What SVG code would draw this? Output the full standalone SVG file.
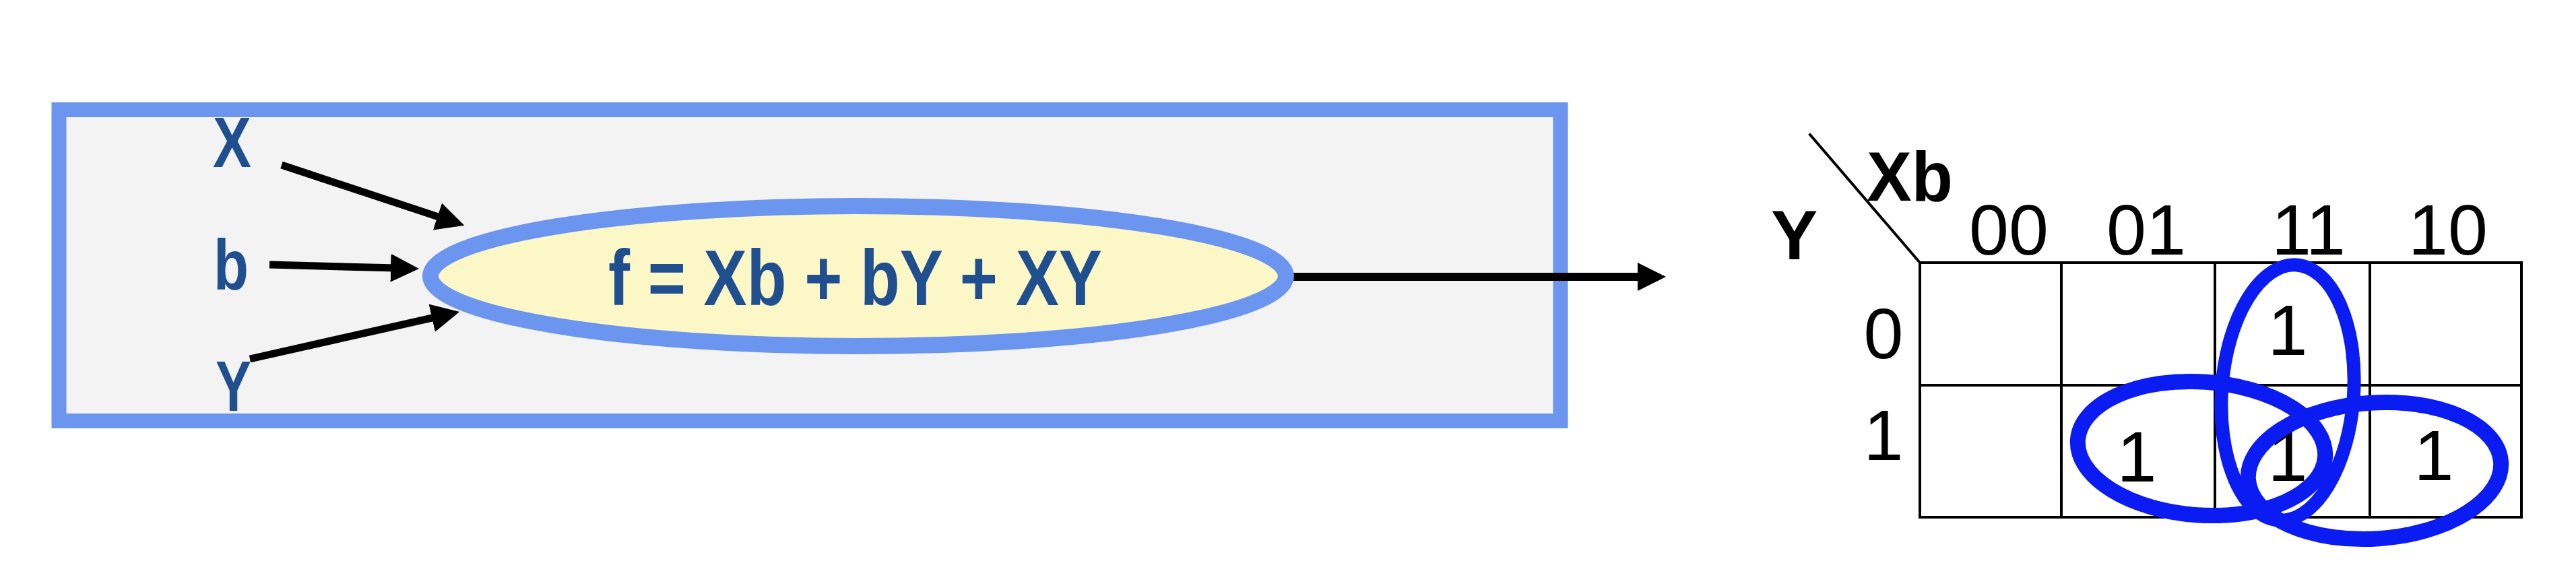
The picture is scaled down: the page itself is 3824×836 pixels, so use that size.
<svg xmlns="http://www.w3.org/2000/svg" width="3824" height="836" viewBox="0 0 3824 836">
  <style>
    .lbl { font-family: "Liberation Sans", Arial, sans-serif; font-weight: bold; fill: #1f4f8e; }
    .km { font-family: "Liberation Sans", Arial, sans-serif; fill: #000000; }
    .kmb { font-family: "Liberation Sans", Arial, sans-serif; font-weight: bold; fill: #000000; }
    .arrow { stroke: #000000; stroke-width: 11; fill: none; marker-end: url(#head); }
    .grid { stroke: #000000; stroke-width: 4; fill: none; stroke-linecap: square; }
    .loop { fill: none; stroke: #0a1cf2; stroke-width: 23; }
  </style>
  <defs>
    <marker id="head" markerUnits="userSpaceOnUse" markerWidth="46" markerHeight="46" refX="9" refY="21" orient="auto" viewBox="0 0 46 46">
      <path d="M0,0 L42,21 L0,42 Z" fill="#000000"/>
    </marker>
  </defs>
  <rect x="0" y="0" width="3824" height="836" fill="#ffffff"/>

  <g id="block">
    <rect x="87.5" y="163" width="2229" height="462" fill="#f3f3f4" stroke="#6b95ee" stroke-width="22"/>
  </g>

  <g id="connectors">
    <line class="arrow" x1="418" y1="245" x2="658" y2="324.4"/>
    <line class="arrow" x1="400" y1="393" x2="589" y2="398.1"/>
    <line class="arrow" x1="371" y1="533" x2="650" y2="470.2"/>
    <line class="arrow" style="stroke-width:12" x1="1915" y1="411" x2="2440" y2="411"/>
  </g>

  <g id="function">
    <ellipse cx="1274" cy="410" rx="635" ry="104" fill="#fcf7c6" stroke="#6b95ee" stroke-width="24"/>
    <text class="lbl" x="903" y="453" font-size="116" textLength="733" lengthAdjust="spacingAndGlyphs">f = Xb + bY + XY</text>
  </g>

  <g id="input-X"><text class="lbl" x="316" y="248" font-size="106" textLength="57" lengthAdjust="spacingAndGlyphs">X</text></g>
  <g id="input-b"><text class="lbl" x="317" y="430" font-size="106" textLength="52" lengthAdjust="spacingAndGlyphs">b</text></g>
  <g id="input-Y"><text class="lbl" x="320" y="610" font-size="106" textLength="53" lengthAdjust="spacingAndGlyphs">Y</text></g>

  <g id="kmap">
    <line class="grid" x1="2687" y1="200" x2="2850" y2="390"/>
    <path class="grid" d="M2850,390 H3743 V768 H2850 Z M2850,572 H3743 M3060,390 V768 M3288,390 V768 M3518,390 V768"/>
    <text class="kmb" x="2771" y="298" font-size="104" textLength="128" lengthAdjust="spacingAndGlyphs">Xb</text>
    <text class="kmb" x="2629" y="385" font-size="104">Y</text>
    <g class="km" font-size="106" text-anchor="middle">
      <text x="2982" y="378">00</text>
      <text x="3186" y="378">01</text>
      <text x="3427" y="378">11</text>
      <text x="3634" y="378">10</text>
      <text x="2796" y="532">0</text>
      <text x="2796" y="683">1</text>
      <text x="3396" y="527">1</text>
      <text x="3172" y="715">1</text>
      <text x="3396" y="714">1</text>
      <text x="3613" y="713">1</text>
    </g>
  </g>

  <g id="loops">
    <ellipse class="loop" style="stroke-width:20" cx="3396" cy="583" rx="98" ry="190" transform="rotate(4 3396 583)"/>
    <ellipse class="loop" cx="3268" cy="666" rx="184" ry="99" transform="rotate(4 3268 666)"/>
    <ellipse class="loop" cx="3525" cy="699" rx="188" ry="101" transform="rotate(-4 3525 699)"/>
  </g>
</svg>
